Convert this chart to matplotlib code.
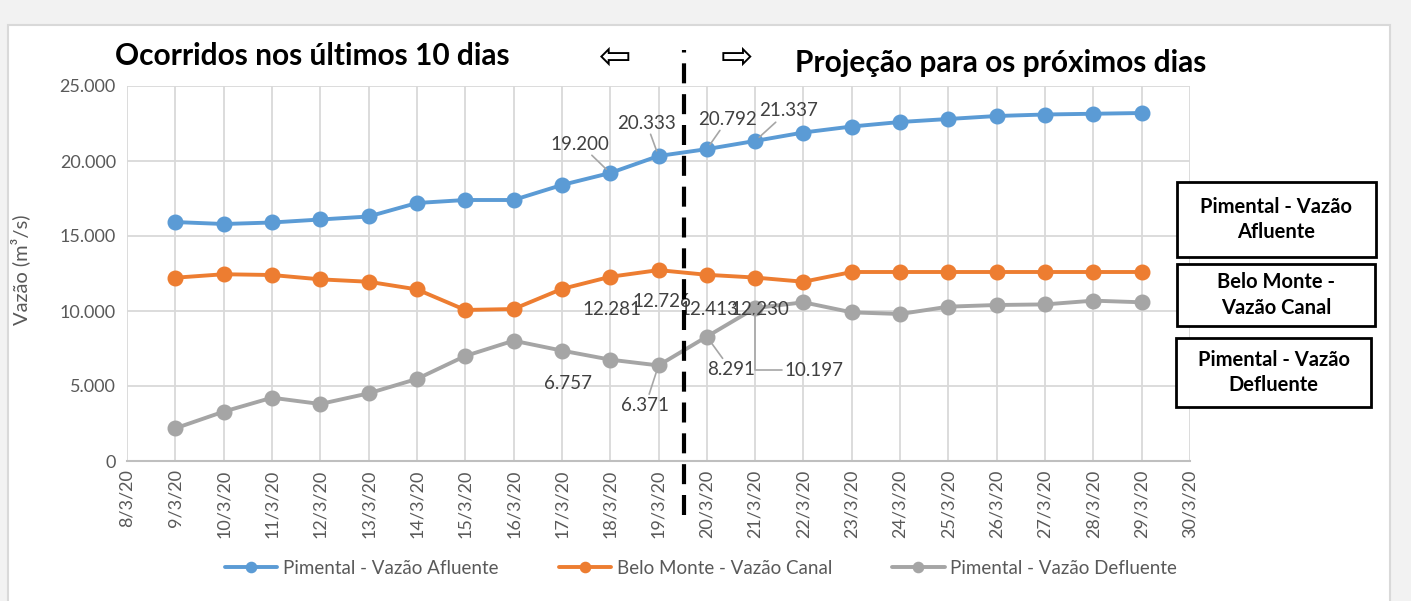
import matplotlib
matplotlib.use("Agg")
import matplotlib.pyplot as plt
from matplotlib.patches import Rectangle

# ---------------- data ----------------
days = list(range(9, 30))  # 9/3/20 .. 29/3/20
afluente = [15930, 15800, 15900, 16100, 16300, 17200, 17400, 17400, 18400, 19200,
            20333, 20792, 21337, 21900, 22300, 22600, 22800, 23000, 23100, 23150, 23200]
canal = [12220, 12450, 12400, 12110, 11950, 11440, 10070, 10130, 11470, 12281,
         12726, 12413, 12230, 11950, 12600, 12600, 12600, 12600, 12600, 12600, 12600]
defluente = [2180, 3290, 4220, 3800, 4510, 5470, 7000, 8020, 7360, 6757,
             6371, 8291, 10197, 10580, 9910, 9800, 10290, 10400, 10440, 10690, 10580]
tick_days = list(range(8, 31))
tick_labels = [f"{d}/3/20" for d in tick_days]
series_names = ["Pimental - Vazão Afluente", "Belo Monte - Vazão Canal", "Pimental - Vazão Defluente"]
box_labels = ["Pimental - Vazão\nAfluente", "Belo Monte -\nVazão Canal", "Pimental - Vazão\nDefluente"]
colors = ["#5B9BD5", "#ED7D31", "#A5A5A5"]

W, H = 1411, 601
fig = plt.figure(figsize=(W / 100, H / 100), dpi=100, facecolor="#f2f2f2")
plt.rcParams["font.family"] = ["Lato", "DejaVu Sans"]

def fx(px):
    return px / W

def fy(py):
    return 1 - py / H

# white chart panel
fig.patches.append(Rectangle((fx(8), -0.01), fx(1390) - fx(8), fy(25) + 0.01,
                             transform=fig.transFigure, facecolor="white",
                             edgecolor="#d9d9d9", linewidth=1.5, zorder=-5))

ax = fig.add_axes([fx(127), fy(461), fx(1190) - fx(127), fy(86) - fy(461)])
ax.set_facecolor("white")
ax.set_xlim(8, 30)
ax.set_ylim(0, 25000)
ax.set_xticks(tick_days)
ax.set_xticklabels(tick_labels, rotation=90, color="#595959", fontsize=13)
yt = [0, 5000, 10000, 15000, 20000, 25000]
ax.set_yticks(yt)
ax.set_yticklabels([f"{v:,}".replace(",", ".") for v in yt], color="#595959", fontsize=13)
ax.tick_params(length=0, pad=8)
ax.tick_params(axis="x", pad=6)
ax.grid(True, color="#d9d9d9", linewidth=1.3)
ax.set_axisbelow(True)
for s in ["left", "right", "top"]:
    ax.spines[s].set_visible(False)
ax.spines["bottom"].set_color("#bfbfbf")
ax.spines["bottom"].set_linewidth(1.5)
ax.set_ylabel("Vazão (m³/s)", color="#595959", fontsize=14.5)
ax.yaxis.set_label_coords(-0.091, 0.509)

lines = []
for vals, c, n in zip([afluente, canal, defluente], colors, series_names):
    ln, = ax.plot(days, vals, color=c, lw=2.8, marker="o", ms=10.5, label=n,
                  solid_capstyle="round", zorder=3)
    lines.append(ln)

# data labels
lbl_color = "#404040"
lead = dict(arrowstyle="-", color="#a6a6a6", lw=1.2, shrinkA=0, shrinkB=4)

def label(series, day, dx, dy, leader=False, conn=None):
    v = series[days.index(day)]
    txt = f"{v:,}".replace(",", ".")
    kw = {}
    if leader:
        ap = dict(lead)
        if conn:
            ap["connectionstyle"] = conn
        kw["arrowprops"] = ap
    ax.annotate(txt, xy=(day, v), xytext=(dx, dy), textcoords="offset pixels",
                ha="center", va="center", fontsize=13.5, color=lbl_color, zorder=4, **kw)

label(afluente, 18, -30, 29, True)
label(afluente, 19, -12, 33, True)
label(afluente, 20, 21, 30, True)
label(afluente, 21, 33, 30, True)
label(canal, 18, 2, -33)
label(canal, 19, 3, -31)
label(canal, 20, 2, -35)
label(canal, 21, 5, -32)
label(defluente, 18, -42, -24)
label(defluente, 19, -13, -40, True)
label(defluente, 20, 24, -33, True)
label(defluente, 21, 59, -62, True, "angle,angleA=0,angleB=90,rad=0")

# dashed divider
ax.axvline(19.53, ymin=-0.145, ymax=1.095, clip_on=False, color="black", lw=3,
           linestyle=(0, (4.8, 2.6)), zorder=6)

# titles and arrows
fig.text(fx(115), fy(65), "Ocorridos nos últimos 10 dias", fontsize=21.5, fontweight="bold",
         ha="left", va="baseline", color="black")
fig.text(fx(795), fy(72), "Projeção para os próximos dias", fontsize=21.5, fontweight="bold",
         ha="left", va="baseline", color="black")
fig.text(fx(615), fy(58), "⇦", fontsize=28, ha="center", va="center", family="DejaVu Sans")
fig.text(fx(737), fy(58), "⇨", fontsize=28, ha="center", va="center", family="DejaVu Sans")

# boxed labels on the right
boxes = [(1177, 182, 1376, 257), (1177, 264, 1375, 326), (1176, 338, 1371, 407)]
for (x0, y0, x1, y1), t in zip(boxes, box_labels):
    fig.patches.append(Rectangle((fx(x0), fy(y1)), fx(x1) - fx(x0), fy(y0) - fy(y1),
                                 transform=fig.transFigure, facecolor="white",
                                 edgecolor="black", linewidth=2, zorder=5))
    fig.text(fx((x0 + x1) / 2), fy((y0 + y1) / 2), t, fontsize=14.5, fontweight="bold",
             ha="center", va="center", linespacing=1.35, zorder=6)

# bottom legend
leg = fig.legend(handles=lines, loc="center", bbox_to_anchor=(fx(701), fy(568)), ncol=3,
                 frameon=False, fontsize=13.5, handlelength=2.8, handletextpad=0.3,
                 columnspacing=3.2, markerscale=0.7, labelcolor="#595959")

fig.savefig("out.png", dpi=100, facecolor=fig.get_facecolor())
